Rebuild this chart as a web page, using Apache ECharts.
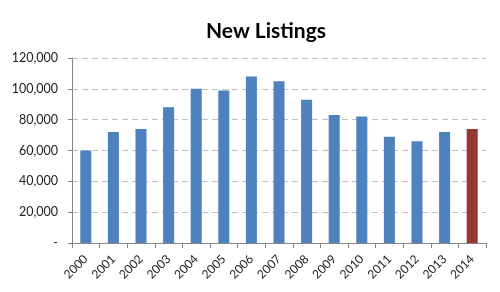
<!DOCTYPE html>
<html><head><meta charset="utf-8">
<script src="https://cdn.jsdelivr.net/npm/echarts@6/dist/echarts.min.js"></script>
<style>html,body{margin:0;padding:0;background:#fff}#c{width:500px;height:292px}</style>
</head><body><div id="c"></div>
<script>
const categories = ['2000','2001','2002','2003','2004','2005','2006','2007','2008','2009','2010','2011','2012','2013','2014'];
const values = [60000,72000,74000,88000,100000,99000,108000,105000,93000,83000,82000,69000,66000,72000,74000];
const highlightCategory = '2014';
const yTicks = [0,20000,40000,60000,80000,100000,120000];

const chart = echarts.init(document.getElementById('c'), null, {renderer:'canvas'});
chart.setOption({
  animation:false,
  title:{text:'New Listings',left:261,top:16,textAlign:'center',
    textStyle:{fontFamily:'Lato',fontWeight:'bold',fontSize:21,color:'#000'}},
  grid:{left:72,right:14,top:58,bottom:49,containLabel:false},
  xAxis:{type:'category',data:categories,
    axisLine:{lineStyle:{color:'#868686'}},
    axisTick:{show:true,length:5,lineStyle:{color:'#868686'},alignWithLabel:false},
    axisLabel:{rotate:45,fontFamily:'Lato',fontSize:12,color:'#222',margin:14}},
  yAxis:{type:'value',min:0,max:120000,interval:20000,
    axisLine:{show:true,lineStyle:{color:'#868686'}},
    axisTick:{show:true,length:4,lineStyle:{color:'#868686'}},
    splitLine:{lineStyle:{color:'#c0c0c0',type:[6,4]}},
    axisLabel:{fontFamily:'Lato',fontSize:12.5,color:'#222',margin:14,
      formatter:v=>v===0?'-':v.toLocaleString('en-US')}},
  series:[{type:'bar',barWidth:'40%',
    data:values.map((v,i)=>({value:v,itemStyle:{color:categories[i]===highlightCategory?'#953735':'#4F81BD'}}))}]
});
</script></body></html>
